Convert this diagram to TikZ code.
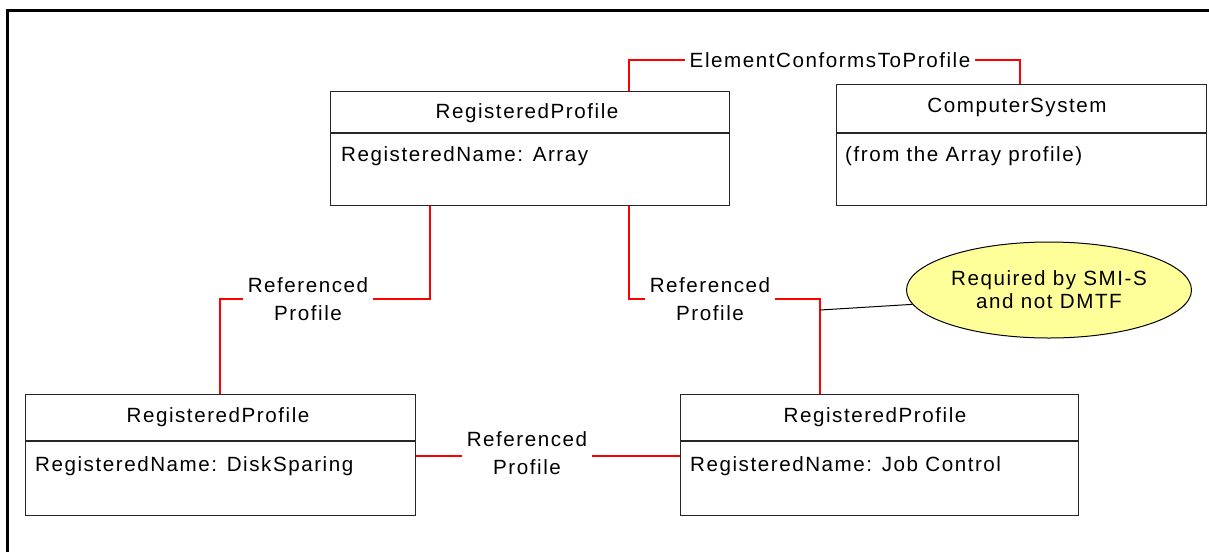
\documentclass[tikz,border=0pt]{standalone}
\usepackage{fontspec}
\setmainfont{Liberation Sans}[LetterSpace=7.5]
\usetikzlibrary{shapes.geometric,calc}
\pgfdeclarelayer{bg}
\pgfsetlayers{bg,main}
\definecolor{noteyellow}{RGB}{255,255,153}
\newcommand\myfs{\fontsize{20.6}{24}\selectfont}
\tikzset{
 box/.style={draw=black!85, line width=1.2pt, anchor=north west, inner sep=0pt},
 divider/.style={draw=black!85, line width=1.2pt},
 hdr/.style={anchor=base, inner sep=0pt, font=\myfs},
 attr/.style={anchor=base west, inner sep=0pt, font=\myfs},
 rel/.style={draw=red, line width=2pt},
 lbl/.style={fill=white, inner xsep=5pt, inner ysep=2pt, align=center, font=\fontsize{20.6}{27.5}\selectfont},
 frameline/.style={line width=3pt},
 notebox/.style={ellipse, draw, line width=1pt, fill=noteyellow, minimum width=285pt, minimum height=96pt, align=center, font=\fontsize{20.6}{23}\selectfont, inner sep=0pt},
 noteline/.style={line width=1pt},
}
\begin{document}
\begin{tikzpicture}[x=1pt,y=-1pt]
\useasboundingbox (0,0) rectangle (1209,552);
\draw[frameline] (7,552) -- (7,10) -- (1212,10);

% boxes
\node[box, minimum width=399pt, minimum height=114pt] (arr) at (330,91) {};
\node[box, minimum width=370pt, minimum height=121pt] (cs) at (836,84) {};
\node[box, minimum width=390pt, minimum height=121pt] (ds) at (25,394) {};
\node[box, minimum width=398pt, minimum height=121pt] (jc) at (680,394) {};
\draw[divider] ($(arr.north west)+(0,42)$) -- ($(arr.north east)+(0,42)$);
\draw[divider] ($(cs.north west)+(0,49)$) -- ($(cs.north east)+(0,49)$);
\draw[divider] ($(ds.north west)+(0,47)$) -- ($(ds.north east)+(0,47)$);
\draw[divider] ($(jc.north west)+(0,47)$) -- ($(jc.north east)+(0,47)$);

% texts
\node[hdr] (arrh) at (527,118) {RegisteredProfile};
\node[attr] (arra) at (341,161) {RegisteredName: Array};
\node[hdr] (csh) at (1017,112) {ComputerSystem};
\node[attr] (csa) at (845,161) {(from the Array profile)};
\node[hdr] (dsh) at (218,422) {RegisteredProfile};
\node[attr] (dsa) at (35,471) {RegisteredName: DiskSparing};
\node[hdr] (jch) at (875,422) {RegisteredProfile};
\node[attr] (jca) at (690,471) {RegisteredName: Job Control};

% labels
\node[lbl] (ecp) at (830,60) {ElementConformsToProfile};
\node[lbl] (rp1) at (308,299) {Referenced\\Profile};
\node[lbl] (rp2) at (710,299) {Referenced\\Profile};
\node[lbl] (rp3) at (527,453) {Referenced\\Profile};

% note
\node[notebox] (note) at (1049,290) {Required by SMI-S\\and not DMTF};

% connectors
\coordinate (p1) at (629,0);
\coordinate (p2) at (1020,0);
\coordinate (p3) at (430,0);
\coordinate (p4) at (220,0);
\coordinate (p5) at (820,0);
\coordinate (q) at (0,456);
\coordinate (tap) at (820,310);
\begin{pgfonlayer}{bg}
\draw[rel] (arr.north -| p1) |- (ecp.center) -| (cs.north -| p2);
\draw[rel] (arr.south -| p3) |- (rp1.center) -| (ds.north -| p4);
\draw[rel] (arr.south -| p1) |- (rp2.center) -| (jc.north -| p5);
\draw[rel] (ds.east |- q) -- (jc.west |- q);
\end{pgfonlayer}
\draw[noteline] (tap) -- (note.186);
\end{tikzpicture}
\end{document}
